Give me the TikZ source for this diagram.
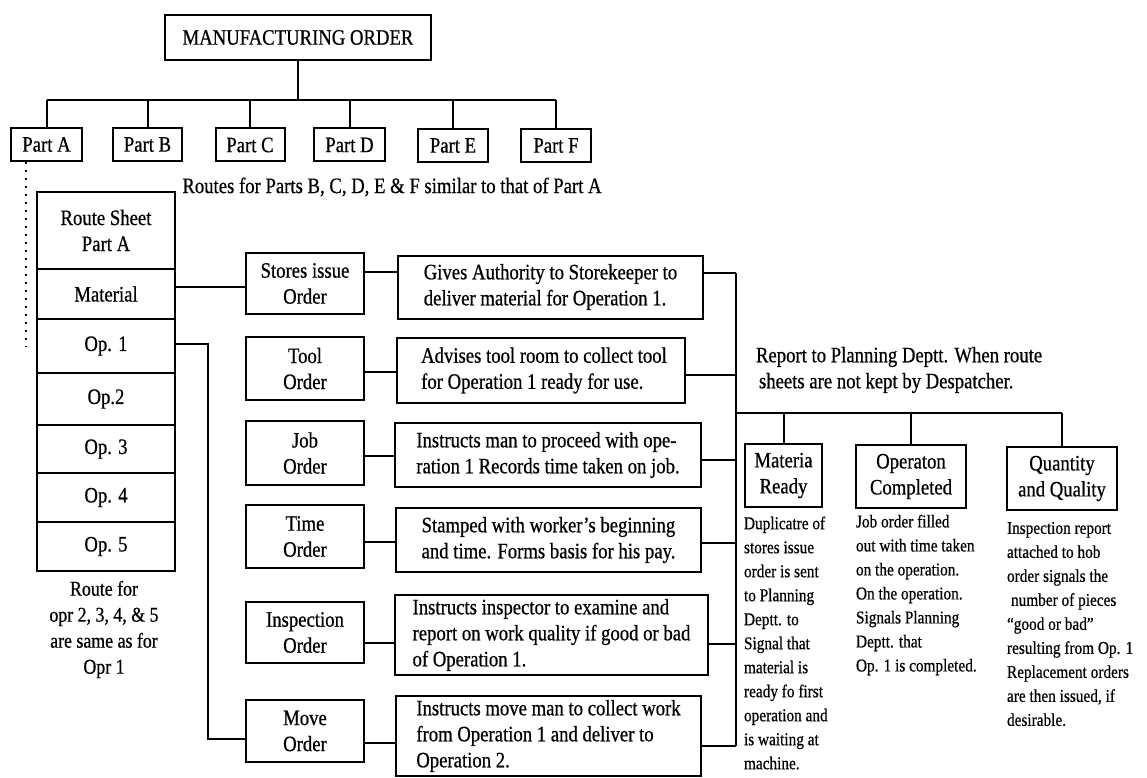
\documentclass[tikz,border=0pt]{standalone}
\usepackage{fontspec}
\setmainfont{Liberation Serif}[FakeStretch=0.85,FakeBold=0.6]
\newcommand\mainsz{\fontsize{22}{26}\selectfont}
\newcommand\colsz{\fontsize{18}{24}\selectfont}
\newcommand\rfsz{\fontsize{21}{26}\selectfont}
\begin{document}
\begin{tikzpicture}[x=1pt,y=-1pt,line width=2pt,
  box/.style={draw,line width=2pt,inner sep=0pt,align=center,font=\mainsz},
  desc/.style={box,align=left},
  txt/.style={inner sep=0pt,font=\mainsz},
  coltxt/.style={inner sep=0pt,align=left,anchor=west,font=\colsz}]
\fill[white] (0,0) rectangle (1147,778);
\useasboundingbox (0,0) rectangle (1147,778);
% top
\node[box,minimum width=266pt,minimum height=45pt] (mord) at (298,37.5) {MANUFACTURING ORDER};
\node[box,minimum width=71pt,minimum height=33pt] (pa) at (46.5,144.5) {Part A};
\node[box,minimum width=69pt,minimum height=33pt] (pb) at (147.5,144.5) {Part B};
\node[box,minimum width=69pt,minimum height=33pt] (pc) at (250,145) {Part C};
\node[box,minimum width=71pt,minimum height=33pt] (pd) at (349.5,145) {Part D};
\node[box,minimum width=70pt,minimum height=33pt] (pe) at (453,145.5) {Part E};
\node[box,minimum width=70pt,minimum height=33pt] (pf) at (556,145.5) {Part F};
\coordinate (bus) at (0,100);
\draw (mord.south) -- (mord.south |- bus);
\draw (pa.north |- bus) -- (pf.north |- bus);
\foreach \p in {pa,pb,pc,pd,pe,pf} \draw (\p.north |- bus) -- (\p.north);
\node[txt] (rt) at (392,187) {Routes for Parts B, C, D, E \& F similar to that of Part A};
\coordinate (dotend) at (26,347);
\draw[line width=1.5pt,dash pattern=on 2pt off 6pt] (pa.south -| dotend) -- (dotend);
% route sheet
\node[box,minimum width=138pt,minimum height=77pt] (rs) at (106,230.5) {Route Sheet\\Part A};
\node[box,minimum width=138pt,minimum height=50pt] (mat) at (106,294) {Material};
\node[box,minimum width=138pt,minimum height=54pt] (op1) at (106,346) {Op. 1};
\node[box,minimum width=138pt,minimum height=52pt] (op2) at (106,399) {Op.2};
\node[box,minimum width=138pt,minimum height=48pt] (op3) at (106,449) {Op. 3};
\node[box,minimum width=138pt,minimum height=49pt] (op4) at (106,497.5) {Op. 4};
\node[box,minimum width=138pt,minimum height=49pt] (op5) at (106,546.5) {Op. 5};
\node[txt,align=center,font=\rfsz] (rf) at (104,629.5) {Route for\\opr 2, 3, 4, \& 5\\are same as for\\Opr 1};
% order boxes
\node[box,minimum width=118pt,minimum height=61pt] (so) at (305,283.5) {Stores issue\\Order};
\node[box,minimum width=118pt,minimum height=63pt] (tlo) at (305,368.5) {Tool\\Order};
\node[box,minimum width=118pt,minimum height=64pt] (jbo) at (305,453) {Job\\Order};
\node[box,minimum width=118pt,minimum height=63pt] (tmo) at (305,536.5) {Time\\Order};
\node[box,minimum width=118pt,minimum height=61pt] (ino) at (305,632.5) {Inspection\\Order};
\node[box,minimum width=118pt,minimum height=62pt] (mvo) at (305,731) {Move\\Order};
% description boxes
\node[desc,minimum width=305pt,minimum height=63pt] (sd) at (550.5,287) {Gives Authority to Storekeeper to\\deliver material for Operation 1.};
\node[desc,minimum width=288pt,minimum height=65pt] (tld) at (541,370.5) {\hspace*{6pt}Advises tool room to collect tool\\\hspace*{6pt}for Operation 1 ready for use.};
\node[desc,minimum width=306pt,minimum height=64pt] (jbd) at (548,455) {Instructs man to proceed with ope-\\ration 1 Records time taken on job.};
\node[desc,minimum width=305pt,minimum height=64pt] (tmd) at (548.5,540) {Stamped with worker's beginning\\and time. Forms basis for his pay.};
\node[desc,minimum width=313pt,minimum height=80pt] (ind) at (551.5,635) {Instructs inspector to examine and\\report on work quality if good or bad\\of Operation 1.};
\node[desc,minimum width=305pt,minimum height=80pt] (mvd) at (548.5,736) {Instructs move man to collect work\\from Operation 1 and deliver to\\Operation 2.};
% left connectors
\coordinate (ymat) at (0,287);
\draw (mat.east |- ymat) -- (so.west |- ymat);
\coordinate (yop) at (0,344);
\coordinate (xop) at (208,0);
\coordinate (ymv) at (0,739);
\draw (op1.east |- yop) -- (xop |- yop) -- (xop |- ymv) -- (mvo.west |- ymv);
% order to description, description to right vertical
\coordinate (vt) at (736,273);
\coordinate (vb) at (736,746);
\draw (vt) -- (vb);
\foreach \a/\b/\ya/\yb in {so/sd/272/273,tlo/tld/372/375,jbo/jbd/456/460,tmo/tmd/542/543,ino/ind/643/644,mvo/mvd/743/746}{
  \draw (\a.east |- 0,\ya) -- (\b.west |- 0,\ya);
  \draw (\b.east |- 0,\yb) -- (vt |- 0,\yb);
}
% right part
\node[txt,align=left,anchor=west] (rep) at (755,370) {Report to Planning Deptt. When route\\\hspace*{3pt}sheets are not kept by Despatcher.};
\node[box,minimum width=77pt,minimum height=63pt] (mr) at (783.5,475.5) {Materia\\Ready};
\node[box,minimum width=110pt,minimum height=63pt] (oc) at (911,476.5) {Operaton\\Completed};
\node[box,minimum width=110pt,minimum height=63pt] (qq) at (1062,478.5) {Quantity\\and Quality};
\coordinate (rb) at (736,413);
\draw (rb) -- (qq.north |- rb);
\foreach \p in {mr,oc,qq} \draw (\p.north |- rb) -- (\p.north);
\node[coltxt] (c1) at (743,643) {Duplicatre of\\stores issue\\order is sent\\to Planning\\Deptt. to\\Signal that\\material is\\ready fo first\\operation and\\is waiting at\\machine.};
\node[coltxt] (c2) at (855,595) {Job order filled\\out with time taken\\on the operation.\\On the operation.\\Signals Planning\\Deptt. that\\Op. 1 is completed.};
\node[coltxt] (c3) at (1006,624) {Inspection report\\attached to hob\\order signals the\\\hspace*{4pt}number of pieces\\``good or bad''\\resulting from Op. 1\\Replacement orders\\are then issued, if\\desirable.};
\end{tikzpicture}
\end{document}
